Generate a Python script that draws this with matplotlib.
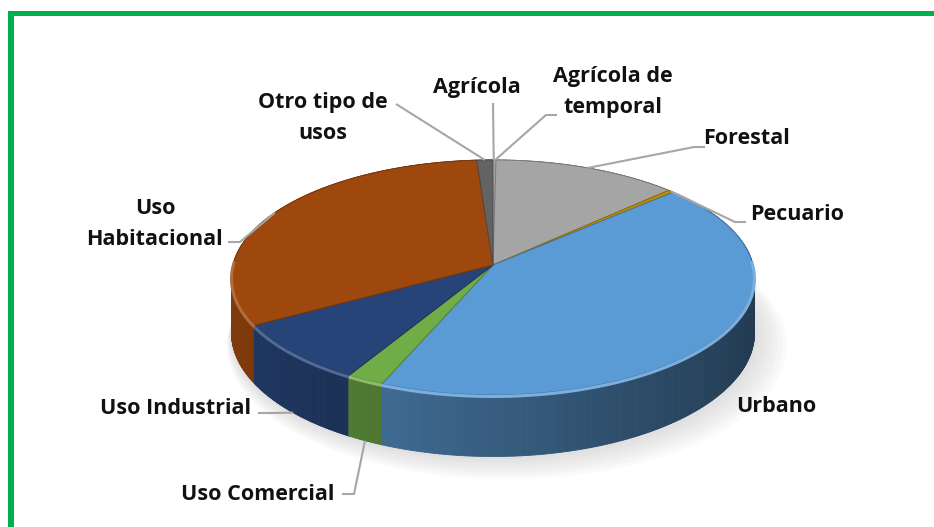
import numpy as np
import matplotlib.pyplot as plt
from matplotlib.patches import Polygon, Rectangle
from matplotlib.collections import PolyCollection
from matplotlib.colors import to_rgb

# land use shares (%), clockwise from 12 o'clock
labels = ["Agrícola", "Agrícola de\ntemporal", "Forestal", "Pecuario", "Urbano",
          "Uso Comercial", "Uso Industrial", "Uso\nHabitacional", "Otro tipo de\nusos"]
values = [0.1, 0.1, 12.7, 0.4, 43.0, 2.1, 8.4, 32.1, 1.1]
colors = ["#E4E4E4", "#D0D0D0", "#A5A5A5", "#BF8F00", "#5B9BD5",
          "#70AD47", "#264478", "#9E480E", "#636363"]

# label placement: text centre, elbow points of the leader (None = no leader)
label_pos = [(477, 88), (613, 92), (747, 138), (797, 215), (776, 406),
             (258, 494), (176, 409), (155, 224), (323, 118)]
leaders = [[(493, 103)], [(557, 115), (546, 115)], [(705, 147), (694, 147)],
           [(746, 222), (735, 222)], None, [(342, 494), (354, 494)],
           [(258, 413), (272, 413)], [(228, 242), (240, 242)], [(396, 104)]]

# pie geometry in pixels
CX, CY = 493, 265
A, B = 260, 116.2
P = 0.106
DEPTH = 55


def project(theta, r=1.0, drop=0.0):
    t = np.radians(theta)
    u, v = r * np.cos(t), r * np.sin(t)
    s = 1.0 / (1.0 + P * v)
    return CX + A * u * s, CY - B * v * s + drop * s


def shade(c, f):
    return tuple(min(1.0, x * f) for x in to_rgb(c))


def lighten(c, f):
    return tuple(x + (1 - x) * f for x in to_rgb(c))


fig = plt.figure(figsize=(9.34, 5.27), dpi=100)
ax = fig.add_axes([0, 0, 1, 1])
ax.set_xlim(0, 934)
ax.set_ylim(527, 0)
ax.axis('off')

total = sum(values)
bounds = 90 - 360 * np.concatenate([[0], np.cumsum(values)]) / total

# soft shadow under the pie, pushed slightly to the right
full = np.linspace(0, 360, 361)
for k in range(8):
    xs, ys = project(full, r=1.0 + 0.01 * k, drop=DEPTH + 1.5 * k)
    ax.add_patch(Polygon(np.column_stack([xs + 2 * k, ys]), closed=True,
                         facecolor='#808080', edgecolor='none', alpha=0.035, zorder=1))

# side walls, painted back to front
quads, qcols, depth_key = [], [], []
for i, c in enumerate(colors):
    t1, t2 = bounds[i], bounds[i + 1]
    n = max(2, int(abs(t1 - t2) / 0.5) + 1)
    ts = np.linspace(t1, t2, n)
    for a0, a1 in zip(ts[:-1], ts[1:]):
        x0, y0 = project(a0)
        x1, y1 = project(a1)
        x0b, y0b = project(a0, drop=DEPTH)
        x1b, y1b = project(a1, drop=DEPTH)
        quads.append([(x0, y0), (x1, y1), (x1b, y1b), (x0b, y0b)])
        am = np.radians((a0 + a1) / 2)
        f = 0.60 - 0.22 * np.cos(am)
        qcols.append(shade(c, f))
        depth_key.append(np.sin(am))
order = np.argsort(depth_key)[::-1]
side = PolyCollection([quads[j] for j in order], facecolors=[qcols[j] for j in order],
                      edgecolors=[qcols[j] for j in order], linewidths=0.6, zorder=2)
ax.add_collection(side)

# top faces
for i, c in enumerate(colors):
    t1, t2 = bounds[i], bounds[i + 1]
    n = max(2, int(abs(t1 - t2) / 0.5) + 1)
    xs, ys = project(np.linspace(t1, t2, n))
    pts = np.vstack([[CX, CY], np.column_stack([xs, ys])])
    ax.add_patch(Polygon(pts, closed=True, facecolor=c, edgecolor=shade(c, 0.75),
                         linewidth=0.7, zorder=3))
    # bevel highlight along the front rim
    front = np.linspace(t1, t2, n)
    front = front[np.sin(np.radians(front)) < 0.05]
    if len(front) > 1:
        fx, fy = project(front)
        ax.plot(fx, fy + 1.5, color=lighten(c, 0.2), lw=2.2, zorder=4,
                solid_capstyle='butt')

# labels and leader lines
for i, lab in enumerate(labels):
    mid = (bounds[i] + bounds[i + 1]) / 2
    if np.sin(np.radians(mid)) < 0:
        ax_, ay_ = project(mid, drop=DEPTH)
    else:
        ax_, ay_ = project(mid)
    if leaders[i] is not None:
        pts = leaders[i] + [(ax_, ay_)]
        ax.plot([p[0] for p in pts], [p[1] for p in pts], color='#A6A6A6',
                lw=1.5, zorder=5, solid_capstyle='butt')
    tx, ty = label_pos[i]
    ax.text(tx, ty, lab, ha='center', va='center', fontsize=15.5, fontweight='bold',
            family='Open Sans', color='#111111', linespacing=1.6, zorder=6)

# green frame
ax.add_patch(Rectangle((8, 11), 934 - 8, 5, facecolor='#00B050', edgecolor='none', zorder=7))
ax.add_patch(Rectangle((8, 11), 6, 527 - 11, facecolor='#00B050', edgecolor='none', zorder=7))

fig.savefig('out.png', dpi=100)
